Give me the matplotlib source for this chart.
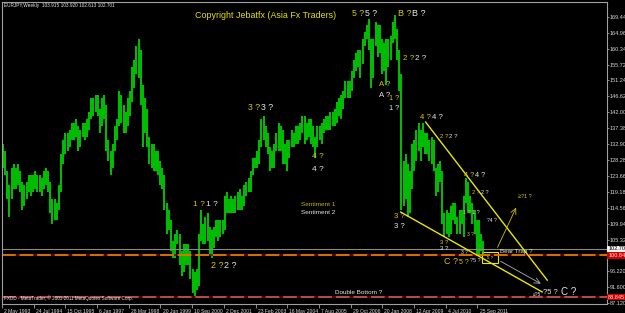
import matplotlib
matplotlib.use("Agg")
import matplotlib.pyplot as plt
import matplotlib.dates as mdates
import matplotlib.transforms as mtransforms
from matplotlib.patches import Rectangle
import pandas as pd

plt.rcParams['font.family'] = ['Liberation Sans', 'DejaVu Sans']

# ---------------------------------------------------------------------------
# Data: EURJPY monthly high / low
# ---------------------------------------------------------------------------
first_month = "1993-05-01"
highs = [
    133, 131, 125, 121, 126, 127, 126, 127,                     # 1993 (May-Dec)
    125, 122, 121, 122, 124, 124, 124, 125, 124, 124, 123, 125,  # 1994
    126, 125, 122, 117, 117, 116, 121, 130, 134, 136, 136, 137,  # 1995
    139, 139, 140, 138, 137, 139, 139, 140, 142, 146, 146, 147,  # 1996
    147, 143, 146, 147, 144, 134, 131, 133, 138, 140, 148, 147,  # 1997
    144, 142, 146, 148, 155, 157, 161, 163, 160, 150, 146, 143,  # 1998
    135, 133, 133, 131, 131, 128, 126, 124, 116, 114, 111, 105,  # 1999
    107, 108, 107, 102, 104, 104, 104, 102, 97, 96, 97, 107,     # 2000
    114, 110, 112, 113, 109, 108, 109, 111, 111, 111, 111, 118,  # 2001
    119, 117, 118, 117, 118, 119, 120, 118, 121, 122, 123, 125,  # 2002
    129, 129, 131, 134, 140, 141, 138, 136, 132, 131, 133, 136,  # 2003
    139, 138, 137, 133, 134, 134, 137, 136, 138, 138, 139, 141,  # 2004
    141, 139, 140, 140, 138, 135, 138, 138, 139, 140, 141, 141,  # 2005
    142, 142, 143, 145, 146, 147, 148, 151, 151, 151, 154, 157,  # 2006
    159, 160, 160, 163, 165, 167, 169, 163, 163, 168, 167, 167,  # 2007
    163, 162, 163, 163, 164, 168, 170, 166, 160, 153, 128, 130,  # 2008
    127, 125, 133, 134, 137, 139, 137, 139, 136, 136, 134, 135,  # 2009
    134, 126, 127, 128, 125, 113, 114, 113, 115, 116, 116, 112,  # 2010
    114, 114, 118, 123, 122, 118, 116, 114, 111, 111, 107, 105,  # 2011
]
lows = [
    126, 124, 117, 112, 117, 120, 120, 121,                     # 1993
    119, 114, 115, 117, 119, 118, 119, 120, 119, 119, 118, 120,  # 1994
    121, 119, 113, 110, 111, 111, 114, 119, 127, 130, 131, 132,  # 1995
    134, 134, 135, 131, 132, 135, 134, 135, 137, 140, 141, 142,  # 1996
    141, 136, 138, 140, 131, 128, 124, 126, 131, 134, 138, 139,  # 1997
    136, 136, 138, 141, 145, 149, 153, 152, 144, 132, 136, 132,  # 1998
    127, 126, 125, 125, 124, 121, 120, 114, 107, 108, 102, 100,  # 1999
    100, 104, 98, 95, 96, 98, 98, 94, 90, 89, 91, 92,            # 2000
    105, 104, 104, 105, 101, 100, 103, 106, 105, 106, 107, 108,  # 2001
    113, 113, 113, 113, 113, 114, 114, 114, 115, 118, 119, 119,  # 2002
    124, 126, 126, 127, 132, 134, 132, 130, 125, 126, 126, 131,  # 2003
    131, 131, 127, 127, 125, 129, 132, 132, 133, 133, 134, 136,  # 2004
    133, 134, 135, 133, 132, 129, 132, 134, 133, 136, 137, 137,  # 2005
    137, 138, 138, 139, 141, 140, 143, 146, 146, 146, 148, 152,  # 2006
    154, 155, 152, 156, 161, 163, 160, 149, 152, 161, 158, 159,  # 2007
    153, 154, 150, 155, 157, 162, 163, 157, 148, 114, 115, 117,  # 2008
    112, 113, 120, 125, 128, 131, 128, 132, 130, 130, 128, 127,  # 2009
    125, 118, 119, 122, 110, 106, 107, 106, 107, 111, 110, 107,  # 2010
    107, 110, 106, 116, 113, 113, 110, 107, 101, 101, 102, 101,  # 2011
]

date_ticks = ["2 May 1993", "24 Jul 1994", "15 Oct 1995", "6 Jan 1997", "28 Mar 1998",
              "20 Jun 1999", "10 Sep 2000", "2 Dec 2001", "23 Feb 2003", "16 May 2004",
              "7 Aug 2005", "29 Oct 2006", "20 Jan 2008", "12 Apr 2009", "4 Jul 2010",
              "25 Sep 2011"]
price_ticks = [169.44, 164.96, 160.34, 155.72, 151.24, 146.62, 142.00, 137.38, 132.90,
               128.28, 123.66, 119.18, 114.56, 109.94, 105.32, 96.22, 91.60, 87.12]

bid_price = 102.701
orange_level = 100.840
bottom_level = 88.845
header = "EURJPY,Weekly  103.915 103.920 102.613 102.701"

# analyst objects (date, price)
upper_line_dates = ["2009-09-22", "2014-06-07"]
upper_line_prices = [139.2, 93.7]
lower_line_dates = ["2008-10-05", "2014-03-28"]
lower_line_prices = [113.3, 90.3]
up_arrow_dates = ["2012-06-18", "2013-04-10"]
up_arrow_prices = [102.4, 115.3]
down_arrow_dates = ["2012-07-16", "2014-04-11"]
down_arrow_prices = [99.5, 92.3]
box_dates = ["2011-12-04", "2012-07-16"]
box_prices = [98.6, 101.8]

# ---------------------------------------------------------------------------
# Figure
# ---------------------------------------------------------------------------
W, H = 625, 313
BASE = pd.Timestamp("1993-05-02")
DAYS_PER_PX = 14.087
YEL = "#dcc400"
WHT = "#e6e6e6"
GRID = "#a0a0a0"

fig = plt.figure(figsize=(W / 100, H / 100), dpi=100, facecolor="black")
ax = fig.add_axes([2 / W, 9 / H, 605 / W, 302 / H])
ax.set_facecolor("black")

x0 = mdates.date2num(BASE)
ax.set_xlim(x0 + 2 * DAYS_PER_PX, x0 + 607 * DAYS_PER_PX)
ax.set_ylim(86.84, 173.757)

months = pd.date_range(first_month, periods=len(highs), freq="MS") + pd.Timedelta(days=14)
ax.vlines(months, lows, highs, color="#00ec00", lw=1.15)

# horizontal levels
ax.axhline(bid_price, color="#8a8a8a", lw=0.8)
ax.axhline(orange_level, color="#700000", lw=1.1)
ax.axhline(orange_level, color="#ff8c00", lw=1.1, dashes=(9, 2.5))
ax.axhline(bottom_level, color="#700000", lw=1.1)
ax.axhline(bottom_level, color="#d06060", lw=1.1, dashes=(9, 2.5))

# trend lines, arrows, box
ax.plot(pd.to_datetime(upper_line_dates), upper_line_prices, color="#e8e800", lw=1)
ax.plot(pd.to_datetime(lower_line_dates), lower_line_prices, color="#e8e800", lw=1)
ua = pd.to_datetime(up_arrow_dates)
ax.annotate("", xy=(ua[1], up_arrow_prices[1]), xytext=(ua[0], up_arrow_prices[0]),
            arrowprops=dict(arrowstyle="->", color="#c8c000", lw=0.6))
da = pd.to_datetime(down_arrow_dates)
ax.annotate("", xy=(da[1], down_arrow_prices[1]), xytext=(da[0], down_arrow_prices[0]),
            arrowprops=dict(arrowstyle="->", color="#b0b0b0", lw=0.6))
bd = mdates.date2num(pd.to_datetime(box_dates))
ax.add_patch(Rectangle((bd[0], box_prices[0]), bd[1] - bd[0], box_prices[1] - box_prices[0],
                       fill=False, edgecolor="#e8e800", lw=0.8))

# axes styling
for s in ax.spines.values():
    s.set_color(GRID)
    s.set_linewidth(0.8)
ax.yaxis.tick_right()
ax.set_yticks(price_ticks)
ax.set_yticklabels([f"{v:.3f}" for v in price_ticks])
ax.tick_params(axis="y", colors=GRID, labelcolor="#d8d8d8", labelsize=4, length=1.5,
               width=0.6, pad=0.6)
ax.set_xticks(mdates.date2num(pd.to_datetime(date_ticks, format="%d %b %Y")))
ax.set_xticklabels(date_ticks, ha="left")
ax.tick_params(axis="x", colors=GRID, labelcolor="#d8d8d8", labelsize=3.6, length=3,
               width=0.6, pad=0.3)
shift = mtransforms.ScaledTranslation(1.5 / 72, 0, fig.dpi_scale_trans)
for lbl in ax.get_xticklabels():
    lbl.set_transform(lbl.get_transform() + shift)

# price boxes on the right axis
ytrans = mtransforms.blended_transform_factory(ax.transAxes, ax.transData)
for val, fc, tc in [(bid_price, "#f0f0f0", "black"), (orange_level, "#d00000", "#ffe0e0"),
                    (bottom_level, "#d00000", "#ffe0e0")]:
    ax.text(1.002, val, f"{val:.3f}", transform=ytrans, fontsize=4, color=tc, va="center",
            ha="left", bbox=dict(boxstyle="square,pad=0.15", fc=fc, ec="none"), clip_on=False)


def put(txt, x, y, color=WHT, size=6, **kw):
    fig.text(x / W, 1 - y / H, txt, color=color, fontsize=size, ha="left", va="center", **kw)


put(header, 4, 6, WHT, 3.4)
put("FXDD - MetaTrader, \u00a9 2001-2011 MetaQuotes Software Corp.", 4, 298, WHT, 3.3)
put("Copyright Jebatfx (Asia Fx Traders)", 195, 15, "#e6e000", 6.4)

pairs = [
    ("5 ?", 352, 13, 6.3), ("B ?", 398, 13, 6.5), ("2 ?", 403, 59, 5.8),
    ("4 ?", 420, 117, 5.6), ("2 ?", 440, 136, 4.4), ("3 ?", 248, 108, 6.3),
    ("1 ?", 193, 204, 6.0), ("2 ?", 211, 266, 6.4), ("4 ?", 464, 175, 5.2),
    ("2 ?", 472, 192, 4.0), ("1 ?", 463, 212, 4.0),
]
for txt, x, y, s in pairs:
    w = s * 1.93 + 1
    put(txt, x, y, YEL, s)
    put(txt, x + w, y, WHT, s)

stacks = [
    ("A ?", 379, 85, 95, 5.6), ("1 ?", 389, 99, 108, 5.2), ("4 ?", 312, 157, 170, 6.0),
    ("3 ?", 394, 216, 227, 5.6), ("3 ?", 440, 242, 249, 4.3),
]
for txt, x, y1, y2, s in stacks:
    put(txt, x, y1, YEL, s)
    put(txt, x, y2, WHT, s)

put("Sentiment 1", 301, 204, "#c8b400", 4.6)
put("Sentiment 2", 301, 213, WHT, 4.6)
put("?4 ?", 487, 221, WHT, 3.6)
put("3 ?", 467, 234, YEL, 3.6)
put("3 ?", 461, 252, WHT, 3.6)
put("C ?", 444, 262, YEL, 6.5)
put("5 ?", 459, 262, YEL, 5.0)
put("?5 ?", 470, 261, WHT, 4.0)
put("5 ?", 487, 258, WHT, 3.2)
put("Bear Trap ?", 500, 252, "#f0e8b0", 4.5)
put("\u2265?1 ?", 518, 197, YEL, 4.0)
put("Double Bottom ?", 335, 293, WHT, 4.6)
put("\u2265?5", 533, 294, WHT, 3.6)
put("?5 ?", 543, 293, WHT, 5.4)
put("C ?", 561, 292, WHT, 7.0)

fig.savefig("out.png", dpi=100, facecolor="black")
